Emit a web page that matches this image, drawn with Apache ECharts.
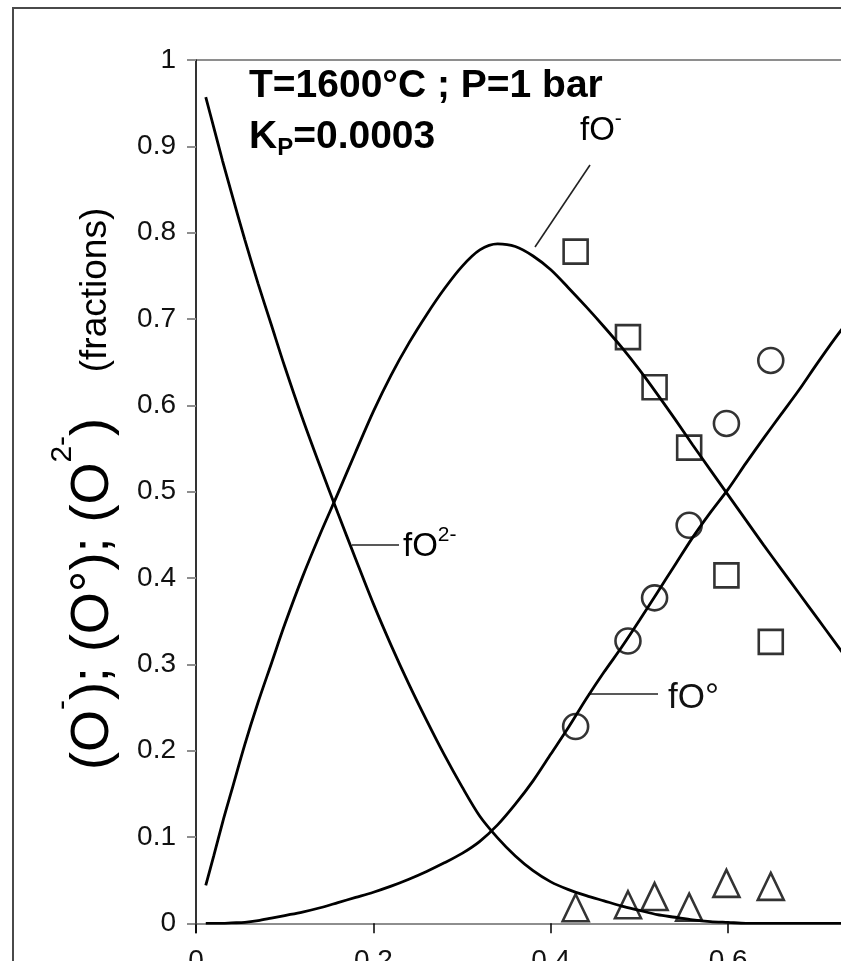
<!DOCTYPE html>
<html>
<head>
<meta charset="utf-8">
<script src="https://cdn.jsdelivr.net/npm/echarts@6/dist/echarts.min.js"></script>
<style>
  html, body { margin: 0; padding: 0; background: #fff; }
  #chart { width: 841px; height: 961px; }
</style>
</head>
<body>
<div id="chart"></div>
<script>
// Silica mole fraction at which the model curves are tabulated
const silicaFraction = [0.011, 0.02, 0.03, 0.04, 0.055, 0.07, 0.085, 0.10, 0.12, 0.14,
  0.16, 0.18, 0.20, 0.22, 0.24, 0.26, 0.28, 0.30, 0.32, 0.34,
  0.36, 0.38, 0.40, 0.42, 0.44, 0.46, 0.48, 0.50, 0.52, 0.54,
  0.56, 0.58, 0.60, 0.62, 0.64, 0.66, 0.68, 0.70, 0.72, 0.74, 0.76];

// Model fractions of non-bridging (O-), bridging (O°) and free (O2-) oxygen
const fNonBridging = [0.044, 0.078, 0.117, 0.153, 0.207, 0.256, 0.301, 0.346, 0.401, 0.451,
  0.498, 0.546, 0.593, 0.635, 0.672, 0.705, 0.735, 0.761, 0.780, 0.787,
  0.784, 0.773, 0.757, 0.736, 0.714, 0.691, 0.667, 0.641, 0.613, 0.584,
  0.554, 0.525, 0.496, 0.467, 0.438, 0.410, 0.382, 0.354, 0.326, 0.298, 0.270];
const fBridging = [0, 0, 0, 0.0005, 0.001, 0.003, 0.006, 0.009, 0.013, 0.018,
  0.024, 0.030, 0.036, 0.043, 0.051, 0.060, 0.070, 0.081, 0.095, 0.114,
  0.138, 0.165, 0.196, 0.227, 0.260, 0.291, 0.320, 0.351, 0.383, 0.415,
  0.447, 0.476, 0.503, 0.533, 0.562, 0.590, 0.618, 0.648, 0.677, 0.704, 0.730];
const fFree = [0.957, 0.922, 0.883, 0.846, 0.792, 0.741, 0.693, 0.645, 0.585, 0.529,
  0.475, 0.422, 0.370, 0.322, 0.277, 0.235, 0.195, 0.158, 0.124, 0.099,
  0.078, 0.061, 0.048, 0.039, 0.032, 0.026, 0.020, 0.015, 0.010, 0.007,
  0.004, 0.002, 0.001, 0, 0, 0, 0, 0, 0, 0, 0];

// Measured compositions and oxygen fractions
const measuredSilica = [0.428, 0.487, 0.517, 0.556, 0.598, 0.648];
const measuredNonBridging = [0.778, 0.679, 0.621, 0.551, 0.403, 0.326];
const measuredBridging = [0.228, 0.327, 0.377, 0.461, 0.579, 0.652];
const measuredFree = [0.018, 0.0215, 0.031, 0.0187, 0.0463, 0.0428];

// Axis tick labels
const xTickLabels = ['0', '0.2', '0.4', '0.6', '0.8'];
const yTickLabels = ['0', '0.1', '0.2', '0.3', '0.4', '0.5', '0.6', '0.7', '0.8', '0.9', '1'];

const FONT = '"Liberation Sans", Arial, sans-serif';

const zip = (xs, ys) => xs.map((x, i) => [x, ys[i]]);

const chart = echarts.init(document.getElementById('chart'), null, { renderer: 'canvas' });

// plotting area: x runs past the right edge of the figure
const gridLeft = 196, gridTop = 60, gridWidth = 709.6, gridHeight = 863.3;

const curveStyle = { color: '#000', width: 2.8 };
const hollow = { color: 'rgba(0,0,0,0)', borderColor: '#000', borderWidth: 2.6 };

const labelRich = {
  a: { fontSize: 33, fontFamily: FONT, color: '#111', lineHeight: 44 },
  s: { fontSize: 21, fontFamily: FONT, color: '#111', lineHeight: 20, verticalAlign: 'top' }
};

chart.setOption({
  backgroundColor: '#fff',
  animation: false,
  grid: {
    left: gridLeft, top: gridTop, width: gridWidth, height: gridHeight,
    containLabel: false, outerBoundsMode: 'none'
  },
  xAxis: {
    type: 'value', min: 0, max: 0.8, interval: 0.2,
    axisLine: { show: true, onZero: false, lineStyle: { color: '#8e8e8e', width: 2 } },
    axisTick: { show: true, length: 10, lineStyle: { color: '#000', width: 1.5 } },
    axisLabel: {
      fontSize: 28, color: '#111', fontFamily: FONT, margin: 24,
      formatter: (v) => xTickLabels[Math.round(v / 0.2)]
    },
    splitLine: { show: false }
  },
  yAxis: {
    type: 'value', min: 0, max: 1, interval: 0.1,
    axisLine: { show: true, lineStyle: { color: '#000', width: 1.6 } },
    axisTick: { show: true, length: 9, lineStyle: { color: '#8e8e8e', width: 2 } },
    axisLabel: {
      fontSize: 28, color: '#111', fontFamily: FONT, margin: 20,
      formatter: (v) => yTickLabels[Math.round(v * 10)]
    },
    splitLine: { show: false }
  },
  series: [
    { name: 'fO-', type: 'line', data: zip(silicaFraction, fNonBridging), showSymbol: false, smooth: 0.3, lineStyle: curveStyle, z: 2 },
    { name: 'fO°', type: 'line', data: zip(silicaFraction, fBridging), showSymbol: false, smooth: 0.3, lineStyle: curveStyle, z: 2 },
    { name: 'fO2-', type: 'line', data: zip(silicaFraction, fFree), showSymbol: false, smooth: 0.3, lineStyle: curveStyle, z: 2 },
    { name: 'O- measured', type: 'scatter', data: zip(measuredSilica, measuredNonBridging), symbol: 'rect', symbolSize: 24, itemStyle: hollow, z: 3 },
    { name: 'O° measured', type: 'scatter', data: zip(measuredSilica, measuredBridging), symbol: 'circle', symbolSize: 25, itemStyle: hollow, z: 3 },
    { name: 'O2- measured', type: 'scatter', data: zip(measuredSilica, measuredFree), symbol: 'triangle', symbolSize: [26, 27], itemStyle: hollow, z: 3 }
  ],
  graphic: [
    // figure frame
    { type: 'rect', shape: { x: 13, y: 8, width: 1000, height: 1000 },
      style: { fill: 'none', stroke: '#4a4a4a', lineWidth: 2 }, silent: true },
    // top edge of the plotting area
    { type: 'line', shape: { x1: 188, y1: gridTop, x2: 900, y2: gridTop },
      style: { stroke: '#8e8e8e', lineWidth: 2 } },
    // short stub of the y axis below zero
    { type: 'line', shape: { x1: 196, y1: gridTop + gridHeight, x2: 196, y2: gridTop + gridHeight + 10 },
      style: { stroke: '#000', lineWidth: 1.6 } },
    // conditions
    { type: 'text', x: 249, y: 86,
      style: { text: 'T=1600°C ; P=1 bar', font: 'bold 39px ' + FONT, fill: '#000', verticalAlign: 'middle' } },
    { type: 'text', x: 249, y: 137,
      style: {
        text: '{m|K}{s|P}{m|=0.0003}', verticalAlign: 'middle',
        rich: {
          m: { fontSize: 39, fontWeight: 'bold', fontFamily: FONT, color: '#000', lineHeight: 46 },
          s: { fontSize: 24, fontWeight: 'bold', fontFamily: FONT, color: '#000', lineHeight: 16, verticalAlign: 'bottom' }
        }
      } },
    // curve labels with leaders
    { type: 'line', shape: { x1: 535, y1: 247, x2: 590, y2: 165 }, style: { stroke: '#222', lineWidth: 1.6 } },
    { type: 'text', x: 580, y: 131, style: { text: '{a|fO}{s|-}', verticalAlign: 'middle', rich: labelRich } },
    { type: 'line', shape: { x1: 352, y1: 545, x2: 399, y2: 545 }, style: { stroke: '#222', lineWidth: 1.6 } },
    { type: 'text', x: 403, y: 547, style: { text: '{a|fO}{s|2-}', verticalAlign: 'middle', rich: labelRich } },
    { type: 'line', shape: { x1: 588, y1: 694, x2: 658, y2: 694 }, style: { stroke: '#222', lineWidth: 1.6 } },
    { type: 'text', x: 668, y: 698,
      style: { text: 'fO°', font: '35px ' + FONT, fill: '#111', verticalAlign: 'middle' } },
    // axis title
    { type: 'text', x: 93, y: 594, rotation: Math.PI / 2,
      style: {
        text: '{b|(O}{p|-}{b|); (O°); (O}{p|2-}{b|)}', align: 'center', verticalAlign: 'middle',
        rich: {
          b: { fontSize: 54, fontFamily: FONT, color: '#000', lineHeight: 90 },
          p: { fontSize: 30, fontFamily: FONT, color: '#000', lineHeight: 28, verticalAlign: 'top' }
        }
      } },
    { type: 'text', x: 96, y: 290, rotation: Math.PI / 2,
      style: { text: '(fractions)', font: '37px ' + FONT, fill: '#000', align: 'center', verticalAlign: 'middle' } }
  ]
});
</script>
</body>
</html>
